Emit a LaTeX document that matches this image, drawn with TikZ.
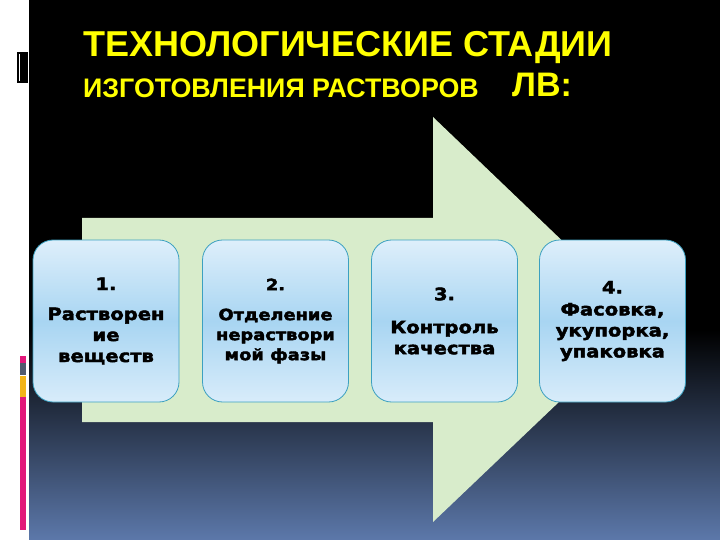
\documentclass[tikz,border=0pt]{standalone}
\usepackage{fontspec}
\setmainfont{Liberation Sans}
\newfontfamily\boxfont{DejaVu Sans}[FakeStretch=1.15, FakeBold=2.6]
\definecolor{ttl}{RGB}{255,255,0}
\definecolor{arrowgreen}{RGB}{216,236,203}
\definecolor{boxtop}{RGB}{222,239,251}
\definecolor{boxmid}{RGB}{168,213,242}
\definecolor{boxbot}{RGB}{216,236,250}
\definecolor{boxline}{RGB}{60,160,192}
\definecolor{bgblue}{RGB}{92,120,170}
\definecolor{barpink}{RGB}{226,24,122}
\definecolor{bargrey}{RGB}{80,90,110}
\definecolor{barorange}{RGB}{242,180,24}
\tikzset{
  stagebox/.style={draw=boxline, line width=0.8pt, rounded corners=20pt,
    top color=boxtop, bottom color=boxbot, middle color=boxmid,
    minimum width=146pt, minimum height=162pt, align=center,
    font=\boxfont\bfseries\fontsize{17}{21}\selectfont, text=black, inner sep=0pt},
  titletext/.style={text=ttl, font=\bfseries, anchor=west, inner sep=0pt}
}
\begin{document}
\begin{tikzpicture}[x=1pt,y=-1pt]
\useasboundingbox (0,0) rectangle (720,540);
\fill[white] (0,0) rectangle (720,540);
\fill[black] (29,0) rectangle (720,331);
\shade[top color=black, bottom color=bgblue] (29,330) rectangle (720,540);
% left decorations
\fill[black] (17,52) rectangle (28,83);
\draw[white, line width=0.8pt] (19.5,54) -- (19.5,81);
\fill[barpink] (20,356) rectangle (26,363);
\fill[bargrey] (20,363) rectangle (26,375);
\fill[barorange] (20,376) rectangle (26,397);
\fill[barpink] (20,397) rectangle (26,530);
% title
\node[titletext, font=\bfseries\fontsize{36}{36}\selectfont] (t1) at (83,48) {ТЕХНОЛОГИЧЕСКИЕ СТАДИИ};
\node[titletext, font=\bfseries\fontsize{26.8}{27}\selectfont] (t2) at (83,88) {ИЗГОТОВЛЕНИЯ РАСТВОРОВ};
\node[titletext, font=\bfseries\fontsize{34}{34}\selectfont] (t3) at (512,85) {ЛВ:};
% arrow
\fill[arrowgreen] (82,218) -- (433,218) -- (433,117) -- (645,320) -- (433,522) -- (433,422) -- (82,422) -- cycle;
% boxes
\node[stagebox] (b1) at (106,321) {1.\\[9pt]Растворен\\ие\\веществ};
\node[stagebox, font=\boxfont\bfseries\fontsize{15.5}{20}\selectfont] (b2) at (275.5,321) {2.\\[10pt]Отделение\\нераствори\\мой фазы};
\node[stagebox] (b3) at (444.5,321) {3.\\[12pt]Контроль\\качества};
\node[stagebox] (b4) at (612.5,321) {4.\\[1pt]Фасовка,\\укупорка,\\упаковка};
\end{tikzpicture}
\end{document}
